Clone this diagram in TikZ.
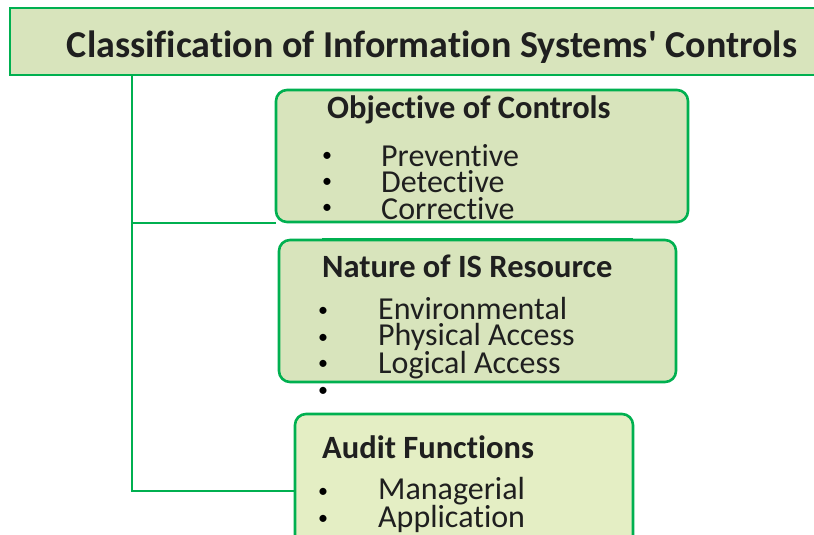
\documentclass[tikz,border=0pt]{standalone}
\usepackage{fontspec}
\setmainfont[Ligatures=NoCommon]{Carlito}
\usetikzlibrary{positioning}
\definecolor{isgreen}{RGB}{0,176,80}
\definecolor{isfill}{RGB}{216,228,188}
\definecolor{isfilltwo}{RGB}{228,238,196}
\tikzset{
  link/.style={draw=isgreen, line width=2.6pt},
  box/.style={draw=isgreen, line width=2.6pt, rounded corners=11pt, fill=isfill},
  head/.style={font=\bfseries\fontsize{32.5}{34}\selectfont, text=black!88, inner sep=0pt, anchor=west},
  items/.style={font=\fontsize{32}{26.3}\selectfont, text=black!88, inner sep=0pt, anchor=west, align=left},
  bul/.style={font=\fontsize{20}{22}\selectfont, inner sep=0pt},
}
\begin{document}
\begin{tikzpicture}[x=1pt, y=-1pt]
  \useasboundingbox (0,0) rectangle (814,535);

  % title
  \draw[draw=isgreen, line width=2.6pt, fill=isfill] (10,8) rectangle (830,75);
  \node[font=\bfseries\fontsize{38}{40}\selectfont, text=black!88, inner sep=0pt] (title) at (432,47) {Classification of Information Systems\textquotesingle\ Controls};
  \coordinate (top) at (132,75);

  % boxes
  \draw[box] (276,90) rectangle (688,222);
  \coordinate (obj) at (276,223);
  \draw[box] (279,240) rectangle (676,382);
  \draw[box, fill=isfilltwo] (295,414) rectangle (633,560);
  \coordinate (aud) at (295,491);
  \draw[link] (322,222) -- (633,222);
  \draw[link] (322,239) -- (633,239);

  % connectors
  \draw[link] (top) |- (aud);
  \draw[link] (top |- obj) -- (obj);

  % objective of controls
  \node[head] (objh) at (327,110) {Objective of Controls};
  \node[items] (objl) at (381,182) {Preventive\\Detective\\Corrective};
  \foreach \y in {157,183,209}
    \node[bul] at (327,\y) {•};

  % nature of IS resource
  \node[head] (nath) at (322,266) {Nature of IS Resource};
  \node[items] (natl) at (378,338) {Environmental\\Physical Access\\Logical Access};
  \foreach \y in {312,339,365,392}
    \node[bul] at (323,\y) {•};

  % audit functions
  \node[head] (audh) at (322,447) {Audit Functions};
  \node[items] (audl) at (378,505) {Managerial\\Application};
  \foreach \y in {493,520}
    \node[bul] at (323,\y) {•};
\end{tikzpicture}
\end{document}
